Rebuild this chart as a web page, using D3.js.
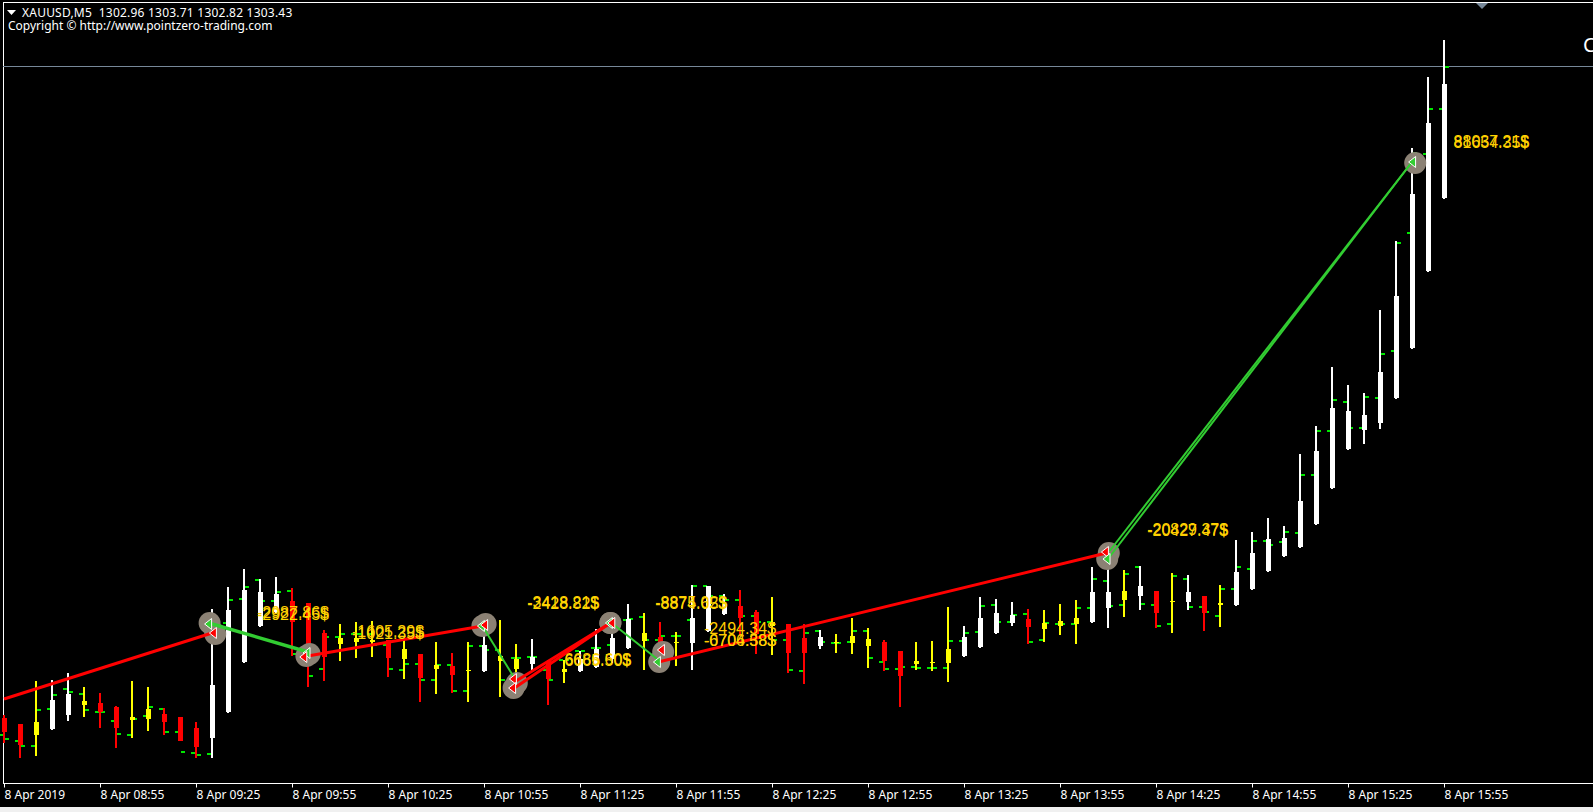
<!DOCTYPE html>
<html>
<head>
<meta charset="utf-8">
<title>XAUUSD M5</title>
<script src="https://cdnjs.cloudflare.com/ajax/libs/d3/7.8.5/d3.min.js"></script>
<style>
  html, body { margin: 0; padding: 0; background: #000; }
  svg { display: block; }
</style>
</head>
<body>
<svg id="chart" width="1593" height="812"></svg>
<script>
// M5 candles, bar 0 opens the session view at 08:25. Prices are in dollars.
const opens = [
1302.82,1302.76,1302.65,1302.71,1302.85,1302.95,1302.97,1302.93,1302.80,1302.81,
1302.86,1302.83,1302.72,1302.62,1302.88,1303.38,1303.74,1303.88,1303.99,1303.97,
1303.67,1303.56,1303.58,1303.58,1303.60,1303.41,1303.46,1303.31,1303.34,1303.29,
1303.29,1303.39,1303.31,1303.36,1303.39,1303.28,1303.29,1303.33,1303.41,1303.52,
1303.59,1303.63,1303.57,1303.57,1303.69,1303.86,1303.94,1303.88,1303.74,1303.76,
1303.62,1303.54,1303.57,1303.57,1303.54,1303.58,1303.49,1303.36,1303.37,1303.37,
1303.44,1303.53,1303.67,1303.77,1303.81,1303.71,1303.74,1303.76,1303.78,1303.92,
1304.00,1304.04,1304.09,1303.98,1303.98,1304.04,1303.95,1303.95,1304.11,1304.29,
1304.44,1304.53,1304.76,1305.12,1305.51,1305.70,1305.77,1306.02,1306.52,1307.29,
1308.02];
const highs = [
1302.85,1302.76,1303.19,1303.20,1303.27,1303.13,1303.07,1302.94,1303.19,1303.13,
1302.92,1302.83,1302.78,1303.91,1304.13,1304.31,1304.21,1304.23,1304.12,1303.97,
1303.70,1303.76,1303.78,1303.79,1303.60,1303.60,1303.46,1303.58,1303.47,1303.58,
1303.82,1303.80,1303.56,1303.61,1303.40,1303.40,1303.49,1303.71,1303.80,1303.96,
1303.87,1303.78,1303.68,1304.15,1304.14,1304.06,1304.10,1303.90,1304.03,1303.76,
1303.76,1303.70,1303.66,1303.82,1303.72,1303.60,1303.49,1303.58,1303.59,1303.93,
1303.74,1304.03,1304.01,1303.98,1303.91,1303.90,1303.96,1304.00,1304.33,1304.37,
1304.30,1304.34,1304.09,1304.27,1304.25,1304.04,1304.15,1304.60,1304.68,1304.82,
1304.74,1305.46,1305.74,1306.33,1306.15,1306.07,1306.90,1307.59,1308.52,1309.23,
1309.60];
const lows = [
1302.57,1302.42,1302.44,1302.70,1302.79,1302.83,1302.72,1302.52,1302.62,1302.69,
1302.65,1302.59,1302.42,1302.42,1302.87,1303.37,1303.73,1303.87,1303.44,1303.13,
1303.19,1303.39,1303.42,1303.43,1303.23,1303.21,1302.98,1303.06,1303.07,1302.98,
1303.28,1303.03,1303.10,1303.29,1302.95,1303.17,1303.28,1303.32,1303.37,1303.51,
1303.30,1303.30,1303.34,1303.30,1303.68,1303.85,1303.64,1303.46,1303.45,1303.27,
1303.16,1303.51,1303.47,1303.46,1303.32,1303.29,1302.93,1303.30,1303.29,1303.18,
1303.43,1303.52,1303.66,1303.74,1303.56,1303.58,1303.65,1303.56,1303.77,1303.72,
1303.83,1303.90,1303.72,1303.67,1303.90,1303.69,1303.73,1303.94,1304.10,1304.28,
1304.43,1304.52,1304.75,1305.11,1305.50,1305.56,1305.71,1306.01,1306.51,1307.28,
1308.01];
const closes = [
1302.68,1302.55,1302.78,1303.00,1303.06,1302.99,1302.88,1302.72,1302.83,1302.91,
1302.78,1302.59,1302.53,1303.15,1303.90,1304.10,1304.08,1304.06,1303.78,1303.50,
1303.43,1303.62,1303.62,1303.60,1303.42,1303.51,1303.22,1303.35,1303.25,1303.30,
1303.55,1303.44,1303.41,1303.43,1303.21,1303.31,1303.41,1303.51,1303.62,1303.81,
1303.67,1303.48,1303.58,1303.82,1304.14,1303.96,1303.82,1303.66,1303.78,1303.47,
1303.47,1303.63,1303.58,1303.64,1303.61,1303.39,1303.24,1303.39,1303.38,1303.51,
1303.63,1303.82,1303.87,1303.85,1303.73,1303.77,1303.79,1303.82,1304.08,1304.08,
1304.09,1304.14,1303.87,1303.99,1304.08,1303.87,1303.97,1304.28,1304.47,1304.61,
1304.62,1304.99,1305.49,1305.92,1305.89,1305.85,1306.28,1307.04,1308.06,1308.77,
1309.16];
// Body colour class of each candle: W white, R red, Y yellow.
const candleKinds = (
  "RRYWWYRRYY" + "RRRWWWWWRR" + "RYYYRYRYRY" + "WYYWRYWWWW" + "YRYWWWRRYR" +
  "RWYYYRRYYY" + "WWWWRYYYWW" + "YWRYWRYWWW" + "WWWWWWWWWW" + "W").split("");
// Open and close ticks printed in green beside each candle.
const tickOpen = [
1302.65,1302.59,1302.54,1302.91,1303.11,1303.06,1302.88,1302.79,1302.65,1302.84,
1302.91,1302.68,1302.47,1302.46,1303.77,1304.01,1304.20,1303.99,1304.09,1303.46,
1303.31,1303.63,1303.66,1303.66,1303.55,1303.30,1303.36,1303.20,1303.35,1303.09,
1303.54,1303.50,1303.42,1303.43,1303.30,1303.40,1303.49,1303.52,1303.55,1303.80,
1303.83,1303.60,1303.64,1303.80,1304.14,1304.04,1304.00,1303.84,1303.78,1303.60,
1303.29,1303.69,1303.57,1303.58,1303.69,1303.38,1303.31,1303.33,1303.32,1303.32,
1303.59,1303.68,1303.95,1303.78,1303.86,1303.60,1303.76,1303.76,1303.92,1304.19,
1303.95,1304.33,1303.95,1303.76,1304.21,1303.93,1303.84,1304.11,1304.31,1304.59,
1304.58,1304.67,1305.25,1305.69,1305.98,1305.72,1306.02,1306.49,1307.67,1308.46,
1308.91];
const tickClose = [
1302.61,1302.54,1302.90,1303.05,1303.08,1302.90,1302.88,1302.66,1302.81,1302.93,
1302.68,1302.48,1302.45,1303.70,1304.00,1304.13,1303.99,1304.08,1303.46,1303.24,
1303.63,1303.66,1303.66,1303.55,1303.31,1303.36,1303.20,1303.35,1303.09,1303.54,
1303.50,1303.20,1303.42,1303.43,1303.20,1303.40,1303.49,1303.52,1303.81,1303.81,
1303.60,1303.64,1303.64,1304.14,1304.04,1304.00,1303.84,1303.78,1303.60,1303.30,
1303.67,1303.58,1303.57,1303.69,1303.42,1303.31,1303.33,1303.32,1303.32,1303.59,
1303.67,1303.94,1303.78,1303.85,1303.58,1303.77,1303.76,1303.92,1304.21,1303.94,
1304.26,1303.96,1303.74,1304.24,1303.93,1303.88,1304.11,1304.33,1304.59,1304.55,
1304.68,1305.25,1305.69,1306.00,1305.72,1306.03,1306.46,1307.57,1308.47,1308.91,
1309.33];

// Trade legs: bar position and price at both ends, plus the side of the trade.
const legBarFrom = [0, 12.8, 18.98, 29.9, 31.9, 31.9, 37.9, 40.9, 69.1, 68.95];
const legBarTo   = [13.0, 19.0, 29.9, 31.9, 37.9, 37.9, 40.9, 68.9, 88.0, 88.0];
const legPriceFrom = [1303.01,1303.77,1303.44,1303.74,1303.12,1303.18,1303.78,1303.38,1304.49,1304.40];
const legPriceTo   = [1303.67,1303.48,1303.74,1303.22,1303.77,1303.77,1303.40,1304.47,1308.38,1308.38];
const legSide = ["sell","buy","sell","buy","sell","sell","buy","sell","buy","buy"];

// Grey discs and arrow heads placed at the trade fills.
const fillBars   = [12.85,13.2,18.9,19.1,29.9,30.1,32.05,31.85,37.9,37.9,41.2,40.95,69.05,68.95,88.2];
const fillPrices = [1303.77,1303.66,1303.44,1303.46,1303.74,1303.76,1303.17,1303.12,1303.77,1303.77,1303.48,1303.38,1304.47,1304.41,1308.37];
const arrowBars   = [12.85,13.15,19.0,18.8,29.9,30.1,31.9,31.85,37.9,38.05,41.15,40.9,68.9,69.0,88.1];
const arrowPrices = [1303.76,1303.67,1303.47,1303.43,1303.74,1303.75,1303.21,1303.12,1303.77,1303.77,1303.50,1303.38,1304.48,1304.41,1308.38];
const arrowSides  = ["buy","sell","buy","sell","buy","sell","sell","sell","buy","sell","sell","buy","sell","buy","buy"];

// Profit captions, two per trade, printed almost on top of one another.
const profitText = ["-2987.86$","-2922.45$","-1605.29$","-1021.35$","-3418.21$","-2428.82$","-8875.02$","-8874.65$",
  "6686.60$","6665.50$","-2494.34$","-6704.38$","-0706.58$","-20829.37$","-20427.47$","88037.21$","81654.35$"];
const profitBar   = [15.81,15.81,21.75,21.75,32.7,32.7,40.7,40.7,35.03,35.03,43.75,43.75,43.75,71.45,71.45,90.6,90.6];
const profitPrice = [1303.82,1303.80,1303.63,1303.61,1303.92,1303.91,1303.92,1303.91,1303.35,1303.34,1303.66,1303.54,1303.54,1304.65,1304.64,1308.53,1308.52];

const axisBars = [0,6,12,18,24,30,36,42,48,54,60,66,72,78,84,90];
const axisLabels = ["8 Apr 2019","8 Apr 08:55","8 Apr 09:25","8 Apr 09:55","8 Apr 10:25","8 Apr 10:55",
  "8 Apr 11:25","8 Apr 11:55","8 Apr 12:25","8 Apr 12:55","8 Apr 13:25","8 Apr 13:55",
  "8 Apr 14:25","8 Apr 14:55","8 Apr 15:25","8 Apr 15:55"];
const symbolLegend = "XAUUSD,M5  1302.96 1303.71 1302.82 1303.43";
const copyrightLine = "Copyright © http://www.pointzero-trading.com";
const bidPrice = 1309.34;

const svg = d3.select("#chart");
const x = d3.scaleLinear().domain([0, 90]).range([4, 1444]);
const y = d3.scaleLinear().domain([1310, 1302.17]).range([0, 783]);

const kindColor = { W: "#ffffff", R: "#ff0000", Y: "#ffff00" };
const tickColor = "#00e600";
const uiFont = "'Noto Sans', 'Liberation Sans', sans-serif";
const captionFont = "'Liberation Sans', Arial, sans-serif";

svg.append("rect").attr("width", 1593).attr("height", 812).attr("fill", "#000");

// Window frame
svg.append("rect").attr("x", 0).attr("y", 807).attr("width", 1593).attr("height", 5).attr("fill", "#f0f0f0");
svg.append("line").attr("x1", 3.5).attr("x2", 3.5).attr("y1", 2).attr("y2", 783).attr("stroke", "#fff");
svg.append("line").attr("x1", 3).attr("x2", 1593).attr("y1", 2.5).attr("y2", 2.5).attr("stroke", "#fff");

const bars = d3.range(opens.length).map(i => ({
  i, o: opens[i], h: highs[i], l: lows[i], c: closes[i], to: tickOpen[i], tc: tickClose[i], kind: candleKinds[i]
}));

// Bid line sits under the candles
svg.append("line")
  .attr("x1", 3).attr("x2", 1593)
  .attr("y1", Math.round(y(bidPrice)) + 0.5).attr("y2", Math.round(y(bidPrice)) + 0.5)
  .attr("stroke", "#778899");

// Green open/close ticks
const ticks = svg.append("g").attr("fill", tickColor);
ticks.selectAll(".open").data(bars).join("rect")
  .attr("x", d => x(d.i) - 5).attr("width", 4).attr("height", 2)
  .attr("y", d => Math.round(y(d.to)) - 1);
ticks.selectAll(".close").data(bars).join("rect")
  .attr("x", d => x(d.i) + 1).attr("width", 4).attr("height", 2)
  .attr("y", d => Math.round(y(d.tc)) - 1);

// Candles
const candle = svg.append("g").selectAll("g").data(bars).join("g")
  .attr("fill", d => kindColor[d.kind]);
candle.append("rect")
  .attr("x", d => x(d.i) - 1).attr("width", 2)
  .attr("y", d => Math.round(y(d.h)))
  .attr("height", d => Math.round(y(d.l)) - Math.round(y(d.h)));
candle.append("rect")
  .attr("x", d => x(d.i) - 2).attr("width", 5)
  .attr("y", d => Math.round(y(Math.max(d.o, d.c))))
  .attr("height", d => Math.max(1, Math.abs(Math.round(y(d.o)) - Math.round(y(d.c)))));

// Grey fill discs
svg.append("g").selectAll("circle").data(d3.range(fillBars.length)).join("circle")
  .attr("cx", i => x(fillBars[i])).attr("cy", i => y(fillPrices[i]))
  .attr("r", 11).attr("fill", "#8b8174");

// Trade legs
svg.append("g").selectAll("line").data(d3.range(legSide.length)).join("line")
  .attr("x1", i => x(legBarFrom[i])).attr("y1", i => y(legPriceFrom[i]))
  .attr("x2", i => x(legBarTo[i])).attr("y2", i => y(legPriceTo[i]))
  .attr("stroke", i => legSide[i] === "sell" ? "#ff0000" : "#32cd32")
  .attr("stroke-width", i => (legSide[i] === "sell" ? 3 : (i === 1 ? 3.5 : 2)));

// Arrow heads at the fills
const arrowShape = "M-5,0 L2,-5.5 L2,5.5 Z";
svg.append("g").selectAll("path").data(d3.range(arrowBars.length)).join("path")
  .attr("d", arrowShape)
  .attr("transform", i => `translate(${x(arrowBars[i])},${y(arrowPrices[i])})`)
  .attr("fill", i => arrowSides[i] === "sell" ? "#ff0000" : "#32cd32")
  .attr("stroke", "#fff").attr("stroke-width", 1);

// Profit captions
svg.append("g").selectAll("text").data(profitText).join("text")
  .attr("x", (d, i) => x(profitBar[i]))
  .attr("y", (d, i) => y(profitPrice[i]))
  .attr("font-family", captionFont).attr("font-size", 16)
  .attr("fill", (d, i) => i % 2 ? "#ffd700" : "#ffcc00")
  .text(d => d);

// Time axis
const axis = d3.axisBottom(x)
  .tickValues(axisBars)
  .tickFormat((d, i) => axisLabels[i])
  .tickSize(4).tickPadding(3);
const axisG = svg.append("g").attr("transform", "translate(0,783.5)").call(axis);
axisG.select(".domain").attr("stroke", "#fff").attr("d", "M3,0H1593");
axisG.selectAll(".tick line").attr("stroke", "#fff");
axisG.selectAll(".tick text")
  .attr("fill", "#fff").attr("text-anchor", "start").attr("x", 0)
  .attr("font-family", uiFont).attr("font-size", 12);

// Header text and markers
svg.append("path").attr("d", d3.line()([[7, 10], [16, 10], [11.5, 15]]) + "Z").attr("fill", "#fff");
svg.append("text").attr("x", 22).attr("y", 17).style("white-space", "pre").style("letter-spacing", "0.22px")
  .attr("font-family", uiFont).attr("font-size", 12).attr("fill", "#fff").text(symbolLegend);
svg.append("text").attr("x", 8).attr("y", 30)
  .attr("font-family", uiFont).attr("font-size", 12).attr("fill", "#fff").text(copyrightLine);
svg.append("path").attr("d", d3.line()([[1476, 3], [1488, 3], [1482, 9]]) + "Z").attr("fill", "#778899");
svg.append("text").attr("x", 1583).attr("y", 52)
  .attr("font-family", uiFont).attr("font-size", 20).attr("fill", "#fff").text("C");
</script>
</body>
</html>
